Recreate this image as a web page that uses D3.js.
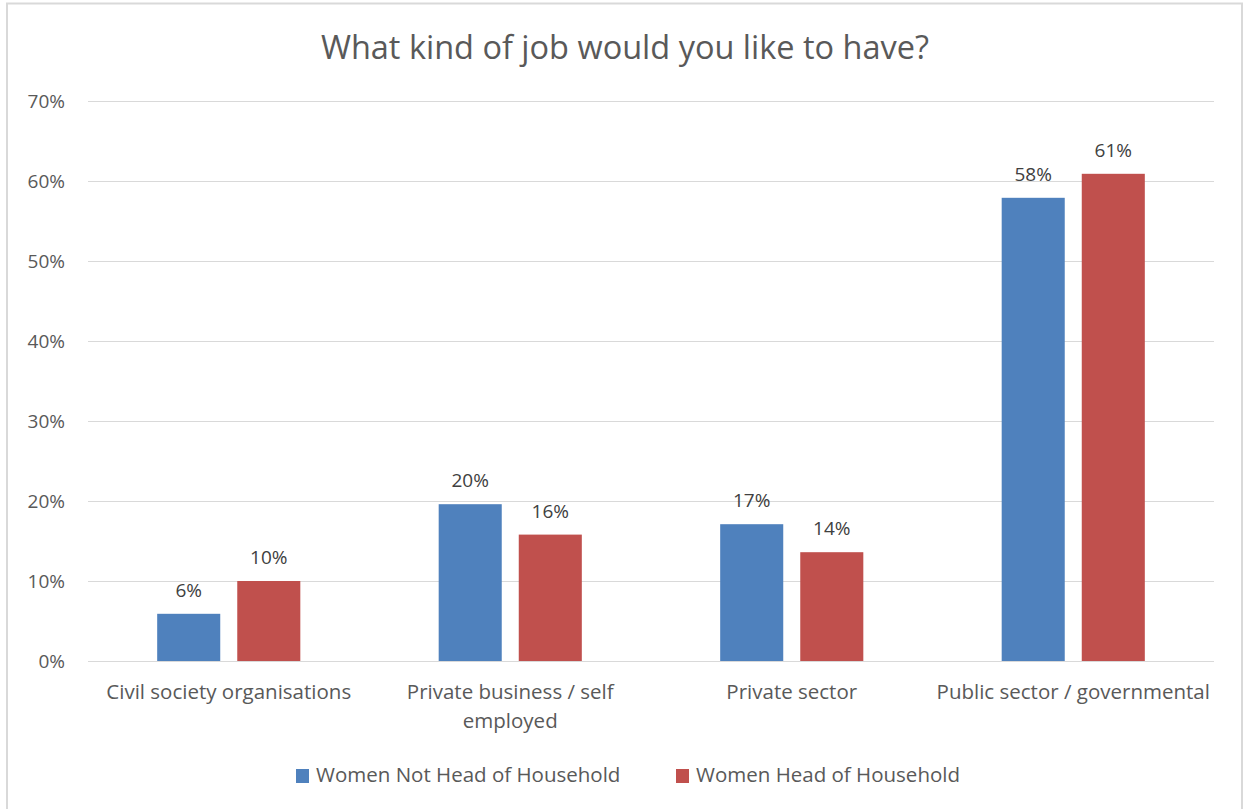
<!DOCTYPE html>
<html>
<head>
<meta charset="utf-8">
<script src="https://cdn.jsdelivr.net/npm/d3@7/dist/d3.min.js"></script>
<style>
  html, body { margin: 0; padding: 0; background: #fff; }
  svg { display: block; font-family: "Open Sans", "Noto Sans", sans-serif; }
</style>
</head>
<body>
<svg id="chart" width="1244" height="809"></svg>
<script>
// Survey answers: preferred type of job, by household role
const categories = [
  "Civil society organisations",
  "Private business / self employed",
  "Private sector",
  "Public sector / governmental"
];
const seriesNames = ["Women Not Head of Household", "Women Head of Household"];
const notHeadValues = [0.059, 0.196, 0.171, 0.579];
const headValues = [0.100, 0.158, 0.136, 0.609];
const yTicks = [0, 0.1, 0.2, 0.3, 0.4, 0.5, 0.6, 0.7];
const colors = ["#4F81BD", "#C0504D"];

const svg = d3.select("#chart");
const W = 1244, H = 809;
const margin = { left: 88, right: 30, top: 101, bottom: 148 };
const textColor = "#595959";

// outer frame
svg.append("rect")
  .attr("x", 7).attr("y", 3.5)
  .attr("width", 1235).attr("height", 820)
  .attr("fill", "#fff").attr("stroke", "#d9d9d9").attr("stroke-width", 2);

// title
svg.append("text")
  .attr("x", 625).attr("y", 59)
  .attr("text-anchor", "middle")
  .attr("fill", textColor)
  .style("font-size", "32.5px")
  .text("What kind of job would you like to have?");

const x0 = d3.scaleBand()
  .domain(categories)
  .range([margin.left, W - margin.right])
  .paddingInner(0).paddingOuter(0);

const x1 = d3.scaleBand()
  .domain(seriesNames)
  .range([0, x0.bandwidth()])
  .paddingInner(0.2125)
  .paddingOuter(0.864);

const y = d3.scaleLinear()
  .domain([0, 0.7])
  .range([H - margin.bottom, margin.top]);

// gridlines
svg.append("g")
  .selectAll("line")
  .data(yTicks)
  .join("line")
  .attr("x1", margin.left).attr("x2", W - margin.right)
  .attr("y1", d => Math.round(y(d)) + 0.5)
  .attr("y2", d => Math.round(y(d)) + 0.5)
  .attr("stroke", "#d9d9d9").attr("stroke-width", 1);

// y axis labels
const yAxis = d3.axisLeft(y).tickValues(yTicks).tickFormat(d3.format(".0%")).tickSize(0).tickPadding(0);
const gy = svg.append("g").attr("transform", `translate(65,0)`).call(yAxis);
gy.select(".domain").remove();
gy.selectAll("text")
  .attr("fill", textColor)
  .style("font-size", "19px")
  .style("font-family", "'Open Sans', sans-serif");

const rows = categories.map((c, i) => ({
  category: c,
  values: [notHeadValues[i], headValues[i]]
}));

const groups = svg.append("g")
  .selectAll("g")
  .data(rows)
  .join("g")
  .attr("transform", d => `translate(${x0(d.category)},0)`);

groups.selectAll("rect")
  .data(d => d.values.map((v, j) => ({ name: seriesNames[j], value: v, j })))
  .join("rect")
  .attr("x", d => x1(d.name))
  .attr("width", x1.bandwidth())
  .attr("y", d => y(d.value))
  .attr("height", d => y(0) - y(d.value))
  .attr("fill", d => colors[d.j]);

groups.selectAll("text.value")
  .data(d => d.values.map((v, j) => ({ name: seriesNames[j], value: v, j })))
  .join("text")
  .attr("class", "value")
  .attr("x", d => x1(d.name) + x1.bandwidth() / 2)
  .attr("y", d => y(d.value) - 17)
  .attr("text-anchor", "middle")
  .attr("fill", "#404040")
  .style("font-size", "19px")
  .text(d => d3.format(".0%")(d.value));

// category labels, wrapped to the band width
const catG = svg.append("g");
categories.forEach(c => {
  const cx = x0(c) + x0.bandwidth() / 2;
  const t = catG.append("text")
    .attr("x", cx)
    .attr("y", 699)
    .attr("text-anchor", "middle")
    .attr("fill", textColor)
    .style("font-size", "20.5px");
  const words = c.split(" ");
  let line = [];
  let tspan = t.append("tspan").attr("x", cx).attr("dy", 0);
  words.forEach(w => {
    line.push(w);
    tspan.text(line.join(" "));
    if (tspan.node().getComputedTextLength() > x0.bandwidth() + 8 && line.length > 1) {
      line.pop();
      tspan.text(line.join(" "));
      line = [w];
      tspan = t.append("tspan").attr("x", cx).attr("dy", 29).text(w);
    }
  });
});

// legend
const legendItems = [{ name: seriesNames[0], x: 296 }, { name: seriesNames[1], x: 676 }];
const lg = svg.append("g");
legendItems.forEach((d, i) => {
  lg.append("rect").attr("x", d.x).attr("y", 769).attr("width", 13).attr("height", 14).attr("fill", colors[i]);
  lg.append("text").attr("x", d.x + 20).attr("y", 782)
    .attr("fill", textColor).style("font-size", "20.5px").text(d.name);
});
</script>
</body>
</html>
